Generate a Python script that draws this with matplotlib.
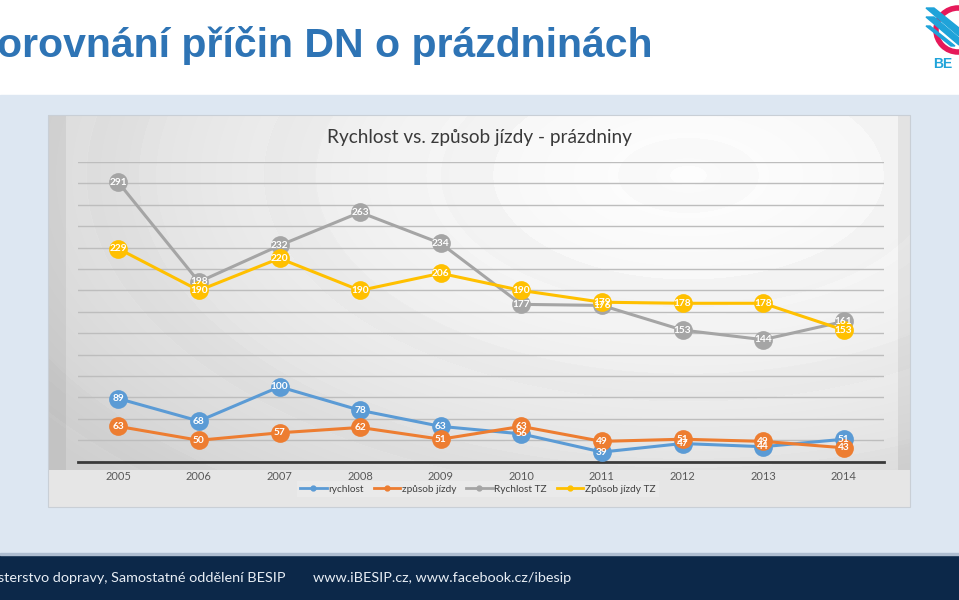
import numpy as np
import matplotlib
matplotlib.use('Agg')
import matplotlib.pyplot as plt
from matplotlib.patches import Rectangle, Polygon, Circle
from matplotlib.lines import Line2D

# data
roky = ['2005', '2006', '2007', '2008', '2009', '2010', '2011', '2012', '2013', '2014']
rychlost = [89, 68, 100, 78, 63, 56, 39, 47, 44, 51]
zpusob = [63, 50, 57, 62, 51, 63, 49, 51, 49, 43]
rychlost_tz = [291, 198, 232, 263, 234, 177, 176, 153, 144, 161]
zpusob_tz = [229, 190, 220, 190, 206, 190, 179, 178, 178, 153]

nazvy = ['rychlost', 'způsob jízdy', 'Rychlost TZ', 'Způsob jízdy TZ']
barvy = ['#5B9BD5', '#ED7D31', '#A5A5A5', '#FFC000']
rady = [rychlost, zpusob, rychlost_tz, zpusob_tz]

plt.rcParams['font.family'] = ['Lato', 'DejaVu Sans']

fig = plt.figure(figsize=(9.59, 6), dpi=100)

# slide background in pixel coords
bg = fig.add_axes([0, 0, 1, 1])
bg.set_xlim(0, 959)
bg.set_ylim(600, 0)
bg.axis('off')
bg.add_patch(Rectangle((0, 95), 959, 460, color='#dde7f2', zorder=0))
bg.add_patch(Rectangle((0, 555), 959, 45, color='#0c2849', zorder=0))
bg.add_patch(Rectangle((0, 553), 959, 2, color='#aebdd0', zorder=1))

# chart picture background (grey gradient)
H, W = 392, 862
yy, xx = np.mgrid[0:H, 0:W]
d = np.sqrt(((xx - 640) / 620.0) ** 2 + ((yy - 60) / 330.0) ** 2)
img = 0.99 - 0.12 * np.clip(d, 0, 1.3) ** 1.5
img = img - 0.012 * (np.sin(d * 22) > 0.6)
img[:, :18] -= 0.05
img[:, -12:] -= 0.06
img[355:, :] = np.maximum(img[355:, :], 0.9)
bg.imshow(img, cmap='gray', vmin=0, vmax=1, extent=[48, 910, 507, 115], aspect='auto', zorder=1)
bg.add_patch(Rectangle((48, 115), 862, 392, fill=False, ec='#c9cfd6', lw=0.8, zorder=2))

# page title (first letter is cut off on the slide)
bg.text(-3, 57, 'orovnání příčin DN o prázdninách', color='#2E74B5', fontsize=29.5,
        fontweight='bold', family=['Liberation Sans', 'DejaVu Sans'],
        va='baseline', ha='left', zorder=3)

# logo approximation
bg.add_patch(Circle((958, 30), 22, fill=False, ec='#e6195a', lw=4, zorder=3))
bg.add_patch(Polygon([[926, 8], [934, 8], [959, 28], [959, 36]], color='#1fa3d9', zorder=4))
bg.add_patch(Polygon([[926, 17], [934, 17], [959, 38], [959, 45]], color='#1fa3d9', zorder=4))
bg.add_patch(Polygon([[926, 26], [930, 26], [955, 46], [951, 46]], color='#1fa3d9', zorder=4))
bg.text(933, 64, 'BE', color='#1fa3d9', fontsize=10, fontweight='bold', va='center',
        ha='left', family=['Liberation Sans', 'DejaVu Sans'], zorder=4)

# footer
bg.text(-2, 578, 'sterstvo dopravy, Samostatné oddělení BESIP', color='#e8eef5', fontsize=10.4,
        va='center', ha='left', zorder=3)
bg.text(313, 578, 'www.iBESIP.cz, www.facebook.cz/ibesip', color='#e8eef5', fontsize=10.4,
        va='center', ha='left', zorder=3)

# chart title
bg.text(479, 137, 'Rychlost vs. způsob jízdy - prázdniny', color='#3a3a3a', fontsize=13.7,
        ha='center', va='center', zorder=3)

# the chart itself
ax = fig.add_axes([78 / 959, 1 - 461.7 / 600, 806 / 959, 299.7 / 600])
ax.patch.set_alpha(0)
x = np.arange(len(roky))
for hodnoty, barva, nazev in zip(rady, barvy, nazvy):
    ax.plot(x, hodnoty, color=barva, lw=2.2, marker='o', markersize=13.5,
            markeredgewidth=0, label=nazev, zorder=3)
    for xi, v in zip(x, hodnoty):
        ax.text(xi, v, str(v), color='white', fontsize=7.3, fontweight='bold',
                ha='center', va='center', zorder=4)

ax.set_xlim(-0.5, len(roky) - 0.5)
ax.set_ylim(30, 310)
ax.set_yticks(range(30, 311, 20))
ax.set_yticklabels([])
ax.set_xticks(x)
ax.set_xticklabels(roky)
ax.tick_params(axis='x', length=0, pad=7, labelsize=8, labelcolor='#595959')
ax.tick_params(axis='y', length=0)
ax.grid(axis='y', color='#bdbdbd', lw=1, zorder=1)
for s in ['top', 'left', 'right']:
    ax.spines[s].set_visible(False)
ax.spines['bottom'].set_color('#3a3a3a')
ax.spines['bottom'].set_linewidth(2)

handles = [Line2D([], [], color=b, lw=2, marker='o', markersize=3.5) for b in barvy]
leg = ax.legend(handles, nazvy, loc='center', bbox_to_anchor=(0.496, -0.091), ncol=4,
                fontsize=7.3, frameon=True, handlelength=2.6, handletextpad=0.15,
                columnspacing=1.0, borderpad=0.35, fancybox=False)
leg.get_frame().set_facecolor('#ececec')
leg.get_frame().set_edgecolor('none')
leg.get_frame().set_alpha(0.8)
for t in leg.get_texts():
    t.set_color('#404040')

fig.savefig('out.png', dpi=100)
